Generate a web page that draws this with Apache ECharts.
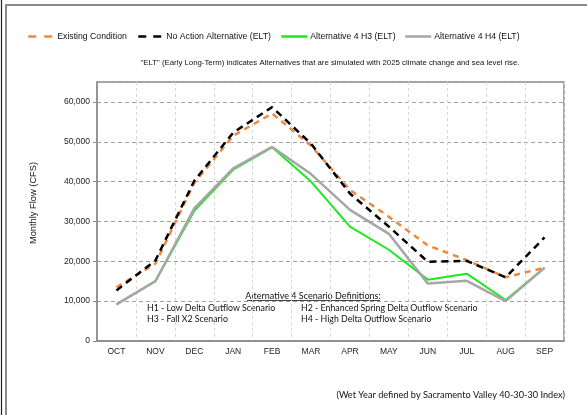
<!DOCTYPE html>
<html><head><meta charset="utf-8">
<script src="https://cdn.jsdelivr.net/npm/echarts@6/dist/echarts.min.js"></script>
<style>html,body{margin:0;padding:0;background:#fff}#c{width:587px;height:415px}</style>
</head><body><div id="c"></div>
<script>
const months = ['OCT','NOV','DEC','JAN','FEB','MAR','APR','MAY','JUN','JUL','AUG','SEP'];
const existingCondition = [13500,19400,39700,51500,57100,49000,37900,31200,24000,20300,16000,18400];
const noActionELT = [12700,20200,40200,52300,58700,49500,37000,28700,19900,20100,16000,26000];
const alt4H3ELT = [9200,15000,32700,43000,48600,40000,28700,22900,15400,16900,10300,18400];
const alt4H4ELT = [9200,15000,33300,43300,48700,41900,32900,26900,14400,15100,10000,18400];
const yTicks = [0,10000,20000,30000,40000,50000,60000];
const seriesNames = ['Existing Condition','No Action Alternative (ELT)','Alternative 4 H3 (ELT)','Alternative 4 H4 (ELT)'];

const chart = echarts.init(document.getElementById('c'), null, {renderer:'canvas'});
const arial = 'Liberation Sans, Arial, sans-serif';
const calib = 'Lato, Open Sans, sans-serif';
function legendAt(name, left, width, lineType){
  return {data:[name], left:left, top:32, itemWidth:width, itemHeight:10, itemGap:4,
    itemStyle:{opacity:0},
    lineStyle:{width:2.5, type:lineType},
    textStyle:{fontFamily:arial, fontSize:8.7, color:'#111', padding:[0,0,0,-2]}, padding:0};
}
chart.setOption({
  animation:false,
  legend:[legendAt(seriesNames[0],27,26,[8,8]), legendAt(seriesNames[1],137,25,[8,7]),
          legendAt(seriesNames[2],280,26,'solid'), legendAt(seriesNames[3],404,26,'solid')],
  grid:{left:97, right:23, top:82, bottom:74, show:true, borderColor:'#8c8c8c', borderWidth:1.5, containLabel:false},
  xAxis:{type:'category', data:months, boundaryGap:true,
    axisLine:{show:true, lineStyle:{color:'#8c8c8c', width:1.5}},
    axisTick:{show:false},
    axisLabel:{fontFamily:arial, fontSize:8.5, color:'#222', margin:6},
    splitLine:{show:true, interval:0, lineStyle:{color:'#d6d6d6', type:[3,3], width:1}}},
  yAxis:{type:'value', min:0, max:65000, interval:10000,
    axisLine:{show:true, lineStyle:{color:'#8c8c8c', width:1.5}},
    axisTick:{show:true, length:4, lineStyle:{color:'#8c8c8c'}},
    axisLabel:{fontFamily:arial, fontSize:8.5, color:'#222', margin:7, showMaxLabel:false,
      formatter:v => yTicks.indexOf(v) >= 0 ? v.toLocaleString('en-US') : ''},
    splitLine:{show:true, lineStyle:{color:'#a0a0a0', type:[4,3], width:1}}},
  series:[
    {name:seriesNames[2], type:'line', data:alt4H3ELT, symbol:'none', z:2,
      lineStyle:{color:'#1ee81e', width:2}, itemStyle:{color:'#1ee81e'}},
    {name:seriesNames[3], type:'line', data:alt4H4ELT, symbol:'none', z:3,
      lineStyle:{color:'#a6a6a6', width:2.5}, itemStyle:{color:'#a6a6a6'}},
    {name:seriesNames[0], type:'line', data:existingCondition, symbol:'none', z:4,
      lineStyle:{color:'#f0873f', width:2.5, type:[6,5]}, itemStyle:{color:'#f0873f'}},
    {name:seriesNames[1], type:'line', data:noActionELT, symbol:'none', z:5,
      lineStyle:{color:'#000', width:2.5, type:[7,5]}, itemStyle:{color:'#000'}}
  ],
  graphic:[
    {type:'line', shape:{x1:1.5,y1:0,x2:1.5,y2:415}, style:{stroke:'#222', lineWidth:1.2}},
    {type:'polyline', shape:{points:[[6,415],[6,5],[587,5]]}, style:{stroke:'#8a8a8a', lineWidth:2, fill:null}},
    {type:'text', x:330, y:63, style:{text:'"ELT" (Early Long-Term) indicates Alternatives that are simulated with 2025 climate change and sea level rise.', font:'7.8px Liberation Sans, Arial, sans-serif', fill:'#111', align:'center', verticalAlign:'middle'}},
    {type:'text', x:33, y:203, rotation:Math.PI/2, style:{text:'Monthly Flow (CFS)', font:'9.3px Liberation Sans, Arial, sans-serif', fill:'#111', align:'center', verticalAlign:'middle'}},
    {type:'text', x:313, y:296, style:{text:'Alternative 4 Scenario Definitions:', font:'9px '+calib, fill:'#111', align:'center', verticalAlign:'middle'}},
    {type:'line', shape:{x1:247,y1:300.5,x2:380,y2:300.5}, style:{stroke:'#111', lineWidth:0.8}},
    {type:'text', x:147, y:308, style:{text:'H1 - Low Delta Outflow Scenario', font:'8.8px '+calib, fill:'#111', verticalAlign:'middle'}},
    {type:'text', x:147, y:319.5, style:{text:'H3 - Fall X2 Scenario', font:'8.8px '+calib, fill:'#111', verticalAlign:'middle'}},
    {type:'text', x:301, y:308, style:{text:'H2 - Enhanced Spring Delta Outflow Scenario', font:'8.8px '+calib, fill:'#111', verticalAlign:'middle'}},
    {type:'text', x:301, y:319.5, style:{text:'H4 - High Delta Outflow Scenario', font:'8.8px '+calib, fill:'#111', verticalAlign:'middle'}},
    {type:'text', x:565, y:395, style:{text:'(Wet Year defined by Sacramento Valley 40-30-30 Index)', font:'9.2px '+calib, fill:'#111', align:'right', verticalAlign:'middle'}}
  ]
});
</script></body></html>
